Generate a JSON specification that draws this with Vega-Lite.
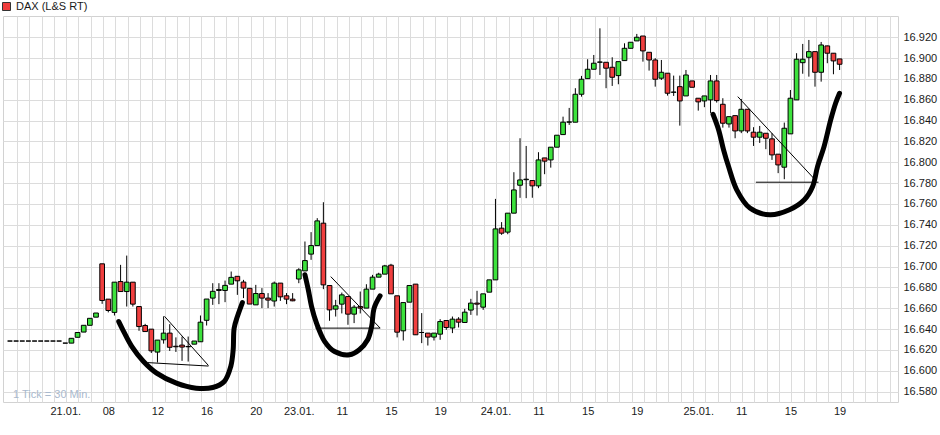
{
  "$schema": "https://vega.github.io/schema/vega-lite/v6.json",
  "width": 895,
  "height": 386,
  "autosize": {"type": "none"},
  "padding": {"left": 3, "top": 16, "right": 42, "bottom": 33},
  "background": "white",
  "config": {
    "font": "Liberation Sans",
    "view": {"stroke": "#d2d2d2", "strokeWidth": 1},
    "axis": {"gridColor": "#dcdcdc", "gridWidth": 1, "labelFont": "Liberation Sans", "labelFontSize": 11, "labelColor": "#1a1a1a", "labelOverlap": false}
  },
  "datasets": {
    "candles": [
      {"t":0,"o":16628.5,"h":16628.5,"l":16628.5,"c":16628.5},
      {"t":1,"o":16628.5,"h":16628.5,"l":16628.5,"c":16628.5},
      {"t":2,"o":16628.5,"h":16628.5,"l":16628.5,"c":16628.5},
      {"t":3,"o":16628.5,"h":16628.5,"l":16628.5,"c":16628.5},
      {"t":4,"o":16628.5,"h":16628.5,"l":16628.5,"c":16628.5},
      {"t":5,"o":16628.5,"h":16628.5,"l":16628.5,"c":16628.5},
      {"t":6,"o":16628.5,"h":16628.5,"l":16628.5,"c":16628.5},
      {"t":7,"o":16628.5,"h":16628.5,"l":16628.5,"c":16628.5},
      {"t":8,"o":16628.5,"h":16628.5,"l":16628.5,"c":16628.5},
      {"t":9,"o":16626.5,"h":16626.5,"l":16626.5,"c":16626.5},
      {"t":10,"o":16626.5,"h":16631.1,"l":16626.5,"c":16631.1},
      {"t":11,"o":16632.1,"h":16636.7,"l":16632.1,"c":16636.7},
      {"t":12,"o":16637.1,"h":16643.6,"l":16637.1,"c":16643.6},
      {"t":13,"o":16643.6,"h":16650.3,"l":16643.6,"c":16650.3},
      {"t":14,"o":16651.4,"h":16655.4,"l":16651.4,"c":16655.4},
      {"t":15,"o":16702.6,"h":16702.6,"l":16664.2,"c":16667.4},
      {"t":16,"o":16668.7,"h":16668.7,"l":16656,"c":16657.8},
      {"t":17,"o":16656,"h":16685,"l":16653,"c":16685},
      {"t":18,"o":16685.6,"h":16701.6,"l":16676,"c":16676},
      {"t":19,"o":16676,"h":16710.5,"l":16661.6,"c":16685},
      {"t":20,"o":16685,"h":16685,"l":16661.6,"c":16663.9},
      {"t":21,"o":16661.6,"h":16661.6,"l":16638.3,"c":16642.4},
      {"t":22,"o":16643.4,"h":16645,"l":16637.6,"c":16637.6},
      {"t":23,"o":16639.9,"h":16639.9,"l":16617,"c":16619.1},
      {"t":24,"o":16617.9,"h":16629.4,"l":16607.9,"c":16629.4},
      {"t":25,"o":16629.7,"h":16652.2,"l":16626,"c":16636.1},
      {"t":26,"o":16636.1,"h":16644.7,"l":16619,"c":16622.5},
      {"t":27,"o":16623.5,"h":16632,"l":16618,"c":16623},
      {"t":28,"o":16624.6,"h":16632.8,"l":16609.5,"c":16622.7},
      {"t":29,"o":16623.3,"h":16632.8,"l":16608.8,"c":16623},
      {"t":30,"o":16625.5,"h":16628.5,"l":16625.5,"c":16628.5},
      {"t":31,"o":16627.8,"h":16653,"l":16627.8,"c":16646.6},
      {"t":32,"o":16648.4,"h":16668.8,"l":16643.4,"c":16668.8},
      {"t":33,"o":16669.7,"h":16684,"l":16663.2,"c":16676.2},
      {"t":34,"o":16677,"h":16684,"l":16663.9,"c":16678},
      {"t":35,"o":16677,"h":16686.5,"l":16665.8,"c":16681.9},
      {"t":36,"o":16683.1,"h":16695.2,"l":16683.1,"c":16689.6},
      {"t":37,"o":16690.6,"h":16690.6,"l":16672.8,"c":16686.3},
      {"t":38,"o":16685.1,"h":16687.2,"l":16669.7,"c":16679.3},
      {"t":39,"o":16679.1,"h":16679.1,"l":16664,"c":16664},
      {"t":40,"o":16663.2,"h":16682.4,"l":16663.2,"c":16674.1},
      {"t":41,"o":16674.1,"h":16679.3,"l":16660.1,"c":16669.7},
      {"t":42,"o":16669.7,"h":16674.5,"l":16660.1,"c":16667.8},
      {"t":43,"o":16666.9,"h":16685.6,"l":16661.6,"c":16684.1},
      {"t":44,"o":16684.1,"h":16684.1,"l":16667,"c":16670.9},
      {"t":45,"o":16671.9,"h":16674.5,"l":16663.9,"c":16668.7},
      {"t":46,"o":16668.7,"h":16674.5,"l":16666.7,"c":16667.1},
      {"t":47,"o":16688,"h":16698.4,"l":16684,"c":16696.8},
      {"t":48,"o":16695.8,"h":16724,"l":16695.8,"c":16705.7},
      {"t":49,"o":16711.9,"h":16733,"l":16706.4,"c":16720.1},
      {"t":50,"o":16720.1,"h":16746.4,"l":16720.1,"c":16743.8},
      {"t":51,"o":16741.6,"h":16761.7,"l":16678.3,"c":16682.4},
      {"t":52,"o":16681.8,"h":16681.8,"l":16647.9,"c":16658.4},
      {"t":53,"o":16659.1,"h":16668,"l":16652,"c":16662.3},
      {"t":54,"o":16663.9,"h":16675,"l":16655,"c":16672.8},
      {"t":55,"o":16671.2,"h":16671.2,"l":16644.1,"c":16654.3},
      {"t":56,"o":16654.3,"h":16663,"l":16645.7,"c":16661},
      {"t":57,"o":16661.6,"h":16676,"l":16655,"c":16660.1},
      {"t":58,"o":16660.1,"h":16683,"l":16660.1,"c":16678.3},
      {"t":59,"o":16678.3,"h":16692,"l":16678.3,"c":16689.8},
      {"t":60,"o":16689.8,"h":16694,"l":16689.8,"c":16692.7},
      {"t":61,"o":16692.7,"h":16701.6,"l":16692.7,"c":16700.6},
      {"t":62,"o":16701.3,"h":16702.6,"l":16673.8,"c":16673.8},
      {"t":63,"o":16671.9,"h":16671.9,"l":16632,"c":16637},
      {"t":64,"o":16638.3,"h":16665.4,"l":16629,"c":16665.4},
      {"t":65,"o":16665.8,"h":16681.8,"l":16665.8,"c":16681.8},
      {"t":66,"o":16683.1,"h":16683.1,"l":16634.5,"c":16634.5},
      {"t":67,"o":16636.7,"h":16655.3,"l":16626.5,"c":16636.7},
      {"t":68,"o":16636.1,"h":16636.1,"l":16624.2,"c":16632.3},
      {"t":69,"o":16632.3,"h":16636.1,"l":16629,"c":16636.1},
      {"t":70,"o":16635.1,"h":16649.5,"l":16629.7,"c":16647.2},
      {"t":71,"o":16648.2,"h":16648.2,"l":16639.3,"c":16641.5},
      {"t":72,"o":16641,"h":16652,"l":16636.1,"c":16649.5},
      {"t":73,"o":16649.5,"h":16651.4,"l":16641.5,"c":16646.6},
      {"t":74,"o":16646.3,"h":16659.4,"l":16646.3,"c":16656.2},
      {"t":75,"o":16658.2,"h":16669,"l":16653.6,"c":16664.9},
      {"t":76,"o":16664.9,"h":16676.7,"l":16653,"c":16663.9},
      {"t":77,"o":16661,"h":16673.8,"l":16658.4,"c":16673.8},
      {"t":78,"o":16675.4,"h":16687.2,"l":16675.4,"c":16687.2},
      {"t":79,"o":16687.2,"h":16764.9,"l":16687.2,"c":16736.1},
      {"t":80,"o":16736.8,"h":16742.6,"l":16730.4,"c":16732},
      {"t":81,"o":16733,"h":16751.2,"l":16731,"c":16751.2},
      {"t":82,"o":16751.2,"h":16790.5,"l":16751.2,"c":16773.5},
      {"t":83,"o":16778,"h":16823.1,"l":16765.9,"c":16783.1},
      {"t":84,"o":16783.3,"h":16815.7,"l":16765.6,"c":16783.8},
      {"t":85,"o":16782.5,"h":16782.5,"l":16766,"c":16777.4},
      {"t":86,"o":16777.4,"h":16809.7,"l":16775.2,"c":16802.3},
      {"t":87,"o":16804.2,"h":16804.2,"l":16788.6,"c":16801.1},
      {"t":88,"o":16802.3,"h":16814.5,"l":16794.9,"c":16814.5},
      {"t":89,"o":16814.5,"h":16826,"l":16814.5,"c":16826},
      {"t":90,"o":16826.6,"h":16843.8,"l":16826.6,"c":16838.5},
      {"t":91,"o":16838.5,"h":16852.2,"l":16835.9,"c":16838.8},
      {"t":92,"o":16838.5,"h":16871.1,"l":16838.5,"c":16865.3},
      {"t":93,"o":16865.3,"h":16882.9,"l":16863,"c":16879.7},
      {"t":94,"o":16880.3,"h":16898.9,"l":16880.3,"c":16889.3},
      {"t":95,"o":16889.3,"h":16903,"l":16889.3,"c":16895.1},
      {"t":96,"o":16896,"h":16928.6,"l":16883.8,"c":16896.3},
      {"t":97,"o":16896,"h":16896,"l":16871.1,"c":16890.3},
      {"t":98,"o":16891.2,"h":16900.8,"l":16873.3,"c":16881.6},
      {"t":99,"o":16883.2,"h":16896.6,"l":16874.9,"c":16896.6},
      {"t":100,"o":16897.6,"h":16914.2,"l":16897.6,"c":16909.4},
      {"t":101,"o":16909.4,"h":16915.2,"l":16909.4,"c":16915.2},
      {"t":102,"o":16916.5,"h":16923.2,"l":16916.5,"c":16920},
      {"t":103,"o":16921.2,"h":16921.2,"l":16896.6,"c":16906.9},
      {"t":104,"o":16905.6,"h":16905.6,"l":16888,"c":16898.2},
      {"t":105,"o":16898.2,"h":16899.9,"l":16872.6,"c":16879.7},
      {"t":106,"o":16880.7,"h":16898.2,"l":16879,"c":16886.4},
      {"t":107,"o":16885.5,"h":16885.5,"l":16864,"c":16866.3},
      {"t":108,"o":16867.2,"h":16883.2,"l":16863.7,"c":16867.4},
      {"t":109,"o":16872.6,"h":16883.2,"l":16835.2,"c":16858.9},
      {"t":110,"o":16863.7,"h":16888.6,"l":16863.7,"c":16883.8},
      {"t":111,"o":16878.1,"h":16878.1,"l":16872,"c":16872},
      {"t":112,"o":16861.5,"h":16861.5,"l":16849.6,"c":16858},
      {"t":113,"o":16858.9,"h":16863.7,"l":16852.9,"c":16863.7},
      {"t":114,"o":16859.9,"h":16883.8,"l":16847.4,"c":16878.1},
      {"t":115,"o":16878.1,"h":16883.8,"l":16857.3,"c":16859.2},
      {"t":116,"o":16855.7,"h":16861.5,"l":16833.3,"c":16837.5},
      {"t":117,"o":16836.8,"h":16843.8,"l":16833.3,"c":16843.8},
      {"t":118,"o":16844.8,"h":16844.8,"l":16823.1,"c":16830.1},
      {"t":119,"o":16830.1,"h":16860.8,"l":16828,"c":16850.9},
      {"t":120,"o":16850.9,"h":16850.9,"l":16828,"c":16830.1},
      {"t":121,"o":16828.9,"h":16833.7,"l":16815.7,"c":16824.1},
      {"t":122,"o":16824.1,"h":16834.9,"l":16818.6,"c":16828.9},
      {"t":123,"o":16827.9,"h":16827.9,"l":16812.6,"c":16823.1},
      {"t":124,"o":16822.5,"h":16827.9,"l":16802.3,"c":16807.1},
      {"t":125,"o":16807.8,"h":16807.8,"l":16789.6,"c":16797.5},
      {"t":126,"o":16795.3,"h":16838.1,"l":16783.8,"c":16832.7},
      {"t":127,"o":16827.3,"h":16869.4,"l":16827.3,"c":16861.5},
      {"t":128,"o":16859.9,"h":16904.7,"l":16859.9,"c":16898.9},
      {"t":129,"o":16895.6,"h":16913.6,"l":16885,"c":16898.9},
      {"t":130,"o":16900.8,"h":16917.4,"l":16882.2,"c":16906.2},
      {"t":131,"o":16906.2,"h":16906.2,"l":16872.6,"c":16886.4},
      {"t":132,"o":16886.4,"h":16915.5,"l":16877.4,"c":16912.6},
      {"t":133,"o":16911.7,"h":16912,"l":16895.1,"c":16904.7},
      {"t":134,"o":16904.7,"h":16904.7,"l":16884.5,"c":16897.3},
      {"t":135,"o":16899.2,"h":16899.2,"l":16888.6,"c":16894.1}
    ],
    "cups": [
      {"cup":"a","t":17.7,"p":16647.2},{"cup":"a","t":18.51,"p":16637.6},{"cup":"a","t":19.84,"p":16623.2},
      {"cup":"a","t":21.73,"p":16608.9},{"cup":"a","t":23.87,"p":16597.7},{"cup":"a","t":27.08,"p":16588.1},
      {"cup":"a","t":30.3,"p":16583.3},{"cup":"a","t":32.99,"p":16583.9},{"cup":"a","t":34.87,"p":16589.7},
      {"cup":"a","t":35.93,"p":16604.1},{"cup":"a","t":36.32,"p":16620.1},{"cup":"a","t":36.48,"p":16640.9},
      {"cup":"a","t":37.01,"p":16652},{"cup":"a","t":37.82,"p":16665.4},
      {"cup":"b","t":48.0,"p":16692.1},{"cup":"b","t":48.55,"p":16677.6},{"cup":"b","t":49.08,"p":16661.6},
      {"cup":"b","t":49.88,"p":16645.7},{"cup":"b","t":51.22,"p":16628.0},{"cup":"b","t":52.83,"p":16618.4},
      {"cup":"b","t":55.24,"p":16615.3},{"cup":"b","t":56.85,"p":16620.1},{"cup":"b","t":58.2,"p":16629.7},
      {"cup":"b","t":58.85,"p":16642.4},{"cup":"b","t":59.26,"p":16660.1},{"cup":"b","t":60.23,"p":16671.9},
      {"cup":"c","t":114.4,"p":16846.1},{"cup":"c","t":115.32,"p":16831.1},{"cup":"c","t":116.12,"p":16811.9},
      {"cup":"c","t":116.93,"p":16795.9},{"cup":"c","t":118.26,"p":16773.6},{"cup":"c","t":120.4,"p":16756.1},
      {"cup":"c","t":123.62,"p":16749.6},{"cup":"c","t":126.84,"p":16754.4},{"cup":"c","t":129.26,"p":16764},
      {"cup":"c","t":130.61,"p":16776.7},{"cup":"c","t":131.41,"p":16795.9},{"cup":"c","t":132.47,"p":16815.1},
      {"cup":"c","t":133.55,"p":16840.7},{"cup":"c","t":134.35,"p":16856.7},{"cup":"c","t":134.99,"p":16866.3}
    ],
    "trend": [
      {"seg":"a1","t":25.15,"p":16652.2},{"seg":"a1","t":32.3,"p":16605},
      {"seg":"a2","t":22.4,"p":16607.8},{"seg":"a2","t":32.3,"p":16604.5},
      {"seg":"b1","t":52.2,"p":16690.3},{"seg":"b1","t":60.24,"p":16640.9},
      {"seg":"b2","t":49.73,"p":16640.9},{"seg":"b2","t":60.24,"p":16640.9},
      {"seg":"c1","t":118.43,"p":16863},{"seg":"c1","t":130.77,"p":16784.8},
      {"seg":"c2","t":121.37,"p":16780.9},{"seg":"c2","t":131.57,"p":16780.9}
    ]
  },
  "layer": [
    {
      "data": {"name": "candles"},
      "mark": {"type": "rule", "color": "#000000", "strokeWidth": 1},
      "encoding": {
        "x": {"field": "t", "type": "quantitative",
              "scale": {"domain": [-0.32, 143.69], "nice": false, "zero": false},
              "axis": {"orient": "bottom", "grid": true, "labels": false, "ticks": false, "domain": false, "title": null, "tickCount": 500,
                       "values": [1.15,3.15,5.15,7.15,9.15,11.15,13.15,15.15,17.15,19.15,21.15,23.15,25.15,27.15,29.15,31.15,33.15,35.15,37.15,39.15,41.15,43.15,45.15,47.15,49.15,51.15,53.15,55.15,57.15,59.15,61.15,63.15,65.15,67.15,69.15,71.15,73.15,75.15,77.15,79.15,81.15,83.15,85.15,87.15,89.15,91.15,93.15,95.15,97.15,99.15,101.15,103.15,105.15,107.15,109.15,111.15,113.15,115.15,117.15,119.15,121.15,123.15,125.15,127.15,129.15,131.15,133.15,135.15,137.15,139.15,141.15,143.15]}},
        "y": {"field": "l", "type": "quantitative",
              "scale": {"domain": [16570, 16940.4], "nice": false, "zero": false},
              "axis": {"orient": "right", "grid": true, "ticks": false, "domain": false, "title": null, "labelPadding": 5, "labelOverlap": false, "tickCount": 100,
                       "values": [16580,16600,16620,16640,16660,16680,16700,16720,16740,16760,16780,16800,16820,16840,16860,16880,16900,16920],
                       "labelExpr": "format(datum.value / 1000, '.3f')"}},
        "y2": {"field": "h"}
      }
    },
    {
      "data": {"name": "candles"},
      "mark": {"type": "bar", "width": 4.7, "stroke": "#000000", "strokeWidth": 1},
      "encoding": {
        "x": {"field": "t", "type": "quantitative",
              "axis": {"orient": "bottom", "grid": false, "ticks": false, "domain": false, "title": null, "labelPadding": 3, "labelOverlap": false, "tickCount": 100,
                       "values": [9,16,24,32,40,47,54,62,70,79,86,94,102,112,119,127,135],
                       "labelExpr": "datum.value == 9 ? '21.01.' : datum.value == 47 ? '23.01.' : datum.value == 79 ? '24.01.' : datum.value == 112 ? '25.01.' : datum.value == 16 ? '08' : datum.value == 24 ? '12' : datum.value == 32 ? '16' : datum.value == 40 ? '20' : (datum.value == 54 || datum.value == 86 || datum.value == 119) ? '11' : (datum.value == 62 || datum.value == 94 || datum.value == 127) ? '15' : '19'"}},
        "y": {"field": "o", "type": "quantitative", "axis": {"title": null}},
        "y2": {"field": "c"},
        "fill": {"condition": {"test": "datum.c >= datum.o", "value": "#3de23d"}, "value": "#f03f3f"}
      }
    },
    {
      "data": {"name": "trend"},
      "mark": {"type": "line", "color": "#000000", "strokeWidth": 1},
      "encoding": {
        "x": {"field": "t", "type": "quantitative", "axis": null},
        "y": {"field": "p", "type": "quantitative", "axis": {"title": null}},
        "detail": {"field": "seg"}
      }
    },
    {
      "data": {"name": "cups"},
      "mark": {"type": "line", "color": "#000000", "strokeWidth": 5, "strokeCap": "round", "strokeJoin": "round", "interpolate": "catmull-rom"},
      "encoding": {
        "x": {"field": "t", "type": "quantitative", "axis": null},
        "y": {"field": "p", "type": "quantitative", "axis": {"title": null}},
        "detail": {"field": "cup"}
      }
    },
    {
      "data": {"values": [{"note": "1 Tick = 30 Min."}]},
      "mark": {"type": "text", "align": "left", "baseline": "middle", "fontSize": 11, "color": "#a9b9cd", "font": "Liberation Sans"},
      "encoding": {
        "x": {"datum": 0.5, "type": "quantitative", "axis": null},
        "y": {"datum": 16576.5, "type": "quantitative"},
        "text": {"field": "note"}
      }
    },
    {
      "data": {"values": [{"series": "DAX (L&S RT)"}]},
      "mark": {"type": "square", "opacity": 0},
      "encoding": {
        "color": {"field": "series", "type": "nominal", "scale": {"range": ["#ef3c3c"]},
                  "legend": {"orient": "none", "legendX": -2, "legendY": -15, "title": null, "padding": 0,
                             "symbolType": "square", "symbolSize": 64, "labelFontSize": 11, "labelColor": "#1a1a1a",
                             "labelFont": "Liberation Sans", "labelOffset": 4,
                             "encode": {"symbols": {"update": {"stroke": {"value": "#333333"}, "strokeWidth": {"value": 1}, "opacity": {"value": 1}}}}}}
      }
    }
  ],
  "resolve": {"axis": {"x": "independent"}}
}
